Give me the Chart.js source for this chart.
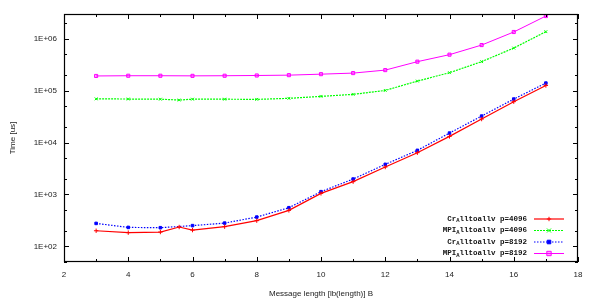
<!DOCTYPE html>
<html>
<head>
<meta charset="utf-8">
<script src="https://cdn.jsdelivr.net/npm/chart.js@4.4.1/dist/chart.umd.min.js"></script>
<style>
  body { margin: 0; background: #fff; }
  #wrap { width: 599px; height: 300px; }
</style>
</head>
<body>
<div id="wrap"><canvas id="timeChart" width="599" height="300"></canvas></div>
<script>
// message length as lb(length) -- p=4096 runs include an extra point at 48 B
const lbLength4096 = [3, 4, 5, 5.585, 6, 7, 8, 9, 10, 11, 12, 13, 14, 15, 16, 17];
const lbLength8192 = [3, 4, 5, 6, 7, 8, 9, 10, 11, 12, 13, 14, 15, 16, 17];

// time in us
const crAlltoallv4096 = [200, 184, 189, 236, 206, 240, 313, 494, 1050, 1766, 3376, 6380, 13150, 28400, 61400, 126000];
const mpiAlltoallv4096 = [69500, 69000, 68500, 66000, 68500, 68500, 68000, 71100, 77700, 84900, 101000, 153000, 222000, 362000, 662000, 1370000];
const crAlltoallv8192 = [277, 232, 229, 251, 281, 367, 556, 1132, 1982, 3802, 7080, 15240, 32400, 68900, 140000];
const mpiAlltoallv8192 = [192000, 194000, 194000, 193000, 194000, 196000, 199000, 208000, 218000, 249000, 362000, 494000, 756000, 1350000, 2740000];

const seriesLabels = ['Cr_Alltoallv p=4096', 'MPI_Alltoallv p=4096', 'Cr_Alltoallv p=8192', 'MPI_Alltoallv p=8192'];
const xTicks = [2, 4, 6, 8, 10, 12, 14, 16, 18];
const yTicks = [1e2, 1e3, 1e4, 1e5, 1e6];

const pts = (xs, ys) => xs.map((x, i) => ({ x: x, y: ys[i] }));

// gnuplot style frame with inward ticks on all four sides
const framePlugin = {
    id: 'frame',
    afterDraw(chart) {
        const { ctx, chartArea: a, scales: { x, y } } = chart;
        ctx.save();
        ctx.strokeStyle = '#000';
        ctx.lineWidth = 1;
        ctx.beginPath();
        for (let v = 2; v <= 18; v++) {
            const px = Math.round(x.getPixelForValue(v)) + 0.5;
            const len = v % 2 === 0 ? 5 : 3;
            ctx.moveTo(px, a.bottom); ctx.lineTo(px, a.bottom - len);
            ctx.moveTo(px, a.top); ctx.lineTo(px, a.top + len);
        }
        for (let e = 1; e <= 6; e++) {
            [1, 2, 5].forEach(m => {
                const v = m * Math.pow(10, e);
                if (v < y.min || v > y.max) return;
                const py = Math.round(y.getPixelForValue(v)) + 0.5;
                const len = m === 1 ? 5 : 3;
                ctx.moveTo(a.left, py); ctx.lineTo(a.left + len, py);
                ctx.moveTo(a.right, py); ctx.lineTo(a.right - len, py);
            });
        }
        ctx.stroke();
        ctx.lineWidth = 1.2;
        ctx.strokeRect(Math.round(a.left) + 0.5, Math.round(a.top) + 0.5,
            Math.round(a.right - a.left) - 1, Math.round(a.bottom - a.top) - 1);
        ctx.restore();
    }
};

// key in the lower right corner, with gnuplot style subscript
const keyPlugin = {
    id: 'key',
    afterDraw(chart) {
        const { ctx, chartArea: a } = chart;
        const textRight = a.right - 51;
        const lineL = a.right - 44, lineR = a.right - 14;
        ctx.save();
        chart.data.datasets.forEach((ds, i) => {
            const yy = a.bottom - 43 + i * 11.5;
            const parts = ds.label.split('_');
            const pre = parts[0], sub = parts[1].charAt(0), rest = parts[1].slice(1);
            const big = 'bold 7.5px "Liberation Mono"', small = 'bold 5.5px "Liberation Mono"';
            ctx.font = big;
            const wPre = ctx.measureText(pre).width, wRest = ctx.measureText(rest).width;
            ctx.font = small;
            const wSub = ctx.measureText(sub).width;
            let xx = textRight - wPre - wSub - wRest;
            ctx.fillStyle = '#111';
            ctx.textBaseline = 'middle';
            ctx.font = big; ctx.fillText(pre, xx, yy); xx += wPre;
            ctx.font = small; ctx.fillText(sub, xx, yy + 2); xx += wSub;
            ctx.font = big; ctx.fillText(rest, xx, yy);
            ctx.strokeStyle = ds.borderColor;
            ctx.lineWidth = ds.borderWidth;
            ctx.setLineDash(ds.borderDash || []);
            ctx.beginPath(); ctx.moveTo(lineL, yy); ctx.lineTo(lineR, yy); ctx.stroke();
            ctx.setLineDash([]);
            ctx.lineWidth = 1;
            ctx.fillStyle = ds.backgroundColor;
            ctx.beginPath();
            const mx = (lineL + lineR) / 2, r = ds.pointRadius;
            if (ds.pointStyle === 'rect') {
                ctx.rect(mx - r, yy - r, 2 * r, 2 * r);
                ctx.fill(); ctx.stroke();
            } else if (ds.pointStyle === 'cross') {
                ctx.moveTo(mx - r, yy); ctx.lineTo(mx + r, yy);
                ctx.moveTo(mx, yy - r); ctx.lineTo(mx, yy + r); ctx.stroke();
            } else {
                ctx.moveTo(mx - r, yy - r); ctx.lineTo(mx + r, yy + r);
                ctx.moveTo(mx + r, yy - r); ctx.lineTo(mx - r, yy + r); ctx.stroke();
            }
        });
        ctx.restore();
    }
};

const ctx = document.getElementById('timeChart').getContext('2d');
const timeChart = new Chart(ctx, {
    type: 'line',
    data: {
        datasets: [
            {
                label: seriesLabels[0],
                data: pts(lbLength4096, crAlltoallv4096),
                borderColor: '#ff0000',
                backgroundColor: '#ff0000',
                borderWidth: 1.2,
                pointStyle: 'cross',
                pointRadius: 2.2,
                pointBorderWidth: 1
            },
            {
                label: seriesLabels[1],
                data: pts(lbLength4096, mpiAlltoallv4096),
                borderColor: '#00ff00',
                backgroundColor: '#00ff00',
                borderWidth: 1.2,
                borderDash: [2, 1],
                pointStyle: 'crossRot',
                pointRadius: 2,
                pointBorderWidth: 1
            },
            {
                label: seriesLabels[2],
                data: pts(lbLength8192, crAlltoallv8192),
                borderColor: '#0000ff',
                backgroundColor: '#0000ff',
                borderWidth: 1.2,
                borderDash: [1.5, 1.5],
                pointStyle: 'rect',
                pointRadius: 1.8,
                pointBorderWidth: 1
            },
            {
                label: seriesLabels[3],
                data: pts(lbLength8192, mpiAlltoallv8192),
                borderColor: '#ff00ff',
                backgroundColor: 'rgba(255,0,255,0.35)',
                borderWidth: 1,
                pointStyle: 'rect',
                pointRadius: 2.2,
                pointBorderWidth: 1
            }
        ]
    },
    options: {
        responsive: false,
        animation: false,
        devicePixelRatio: 1,
        layout: { padding: { top: 14, right: 21, left: 0, bottom: 0 } },
        plugins: { legend: { display: false }, tooltip: { enabled: false } },
        elements: { line: { tension: 0, fill: false } },
        scales: {
            x: {
                type: 'linear',
                min: 2,
                max: 18,
                afterBuildTicks: s => { s.ticks = xTicks.map(v => ({ value: v })); },
                afterFit: s => { s.height = 38; },
                grid: { display: false, drawTicks: false },
                border: { display: false },
                ticks: {
                    padding: 8,
                    color: '#222',
                    font: { family: '"Liberation Sans"', size: 8 },
                    maxRotation: 0
                },
                title: {
                    display: true,
                    text: 'Message length [lb(length)] B',
                    color: '#222',
                    font: { family: '"Liberation Sans"', size: 8 },
                    padding: { top: 0, bottom: 1 }
                }
            },
            y: {
                type: 'logarithmic',
                min: 50,
                max: 3e6,
                afterBuildTicks: s => { s.ticks = yTicks.map(v => ({ value: v })); },
                afterFit: s => { s.width = 64; },
                grid: { display: false, drawTicks: false },
                border: { display: false },
                ticks: {
                    padding: 7,
                    color: '#222',
                    font: { family: '"Liberation Sans"', size: 8 },
                    callback: v => '1E+0' + Math.round(Math.log10(v))
                },
                title: {
                    display: true,
                    text: 'Time [us]',
                    color: '#222',
                    font: { family: '"Liberation Sans"', size: 8 },
                    padding: { top: 8, bottom: 0 }
                }
            }
        }
    },
    plugins: [framePlugin, keyPlugin]
});
</script>
</body>
</html>
